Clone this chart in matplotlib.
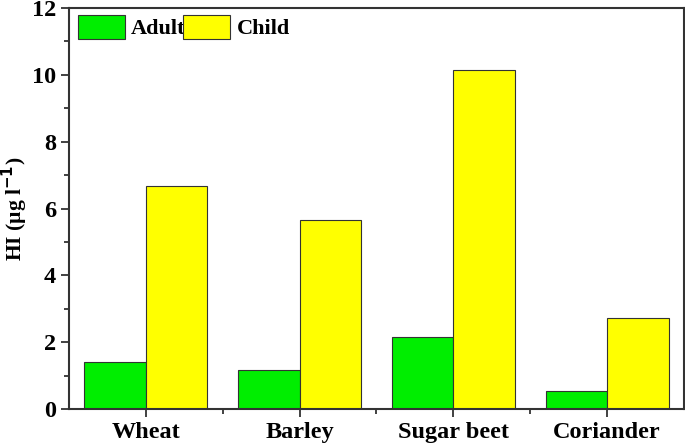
import matplotlib
matplotlib.use("Agg")
import matplotlib.pyplot as plt
import numpy as np
from matplotlib.ticker import MultipleLocator, FixedLocator

plt.rcParams["font.family"] = ["Liberation Serif", "DejaVu Serif"]
plt.rcParams["font.weight"] = "bold"

crops = ["Wheat", "Barley", "Sugar beet", "Coriander"]
adult = [1.41, 1.17, 2.16, 0.54]
child = [6.68, 5.66, 10.15, 2.72]

fig = plt.figure(figsize=(6.85, 4.45), dpi=100)
ax = fig.add_axes([0.1007, 0.0809, 0.8978, 0.9011])

x = np.arange(len(crops))
width = 0.4
ax.bar(x - width / 2, adult, width=width, color="#00ee00", edgecolor="#333333",
       linewidth=0.8, label="Adult")
ax.bar(x + width / 2, child, width=width, color="#ffff00", edgecolor="#333333",
       linewidth=0.8, label="Child")

ax.set_xlim(-0.5, 3.5)
ax.set_ylim(0, 12)
ax.set_xticks(x)
ax.set_xticklabels(crops, fontsize=17.5, fontweight="bold")
ax.xaxis.set_minor_locator(FixedLocator([0.5, 1.5, 2.5]))
ax.yaxis.set_major_locator(MultipleLocator(2))
ax.yaxis.set_minor_locator(MultipleLocator(1))
ax.tick_params(axis="both", which="major", direction="out", length=6, width=1.3,
               labelsize=17.5, color="#333333")
ax.tick_params(axis="both", which="minor", direction="out", length=3.5, width=1.3,
               color="#333333")
for label in ax.get_yticklabels():
    label.set_fontweight("bold")
for spine in ax.spines.values():
    spine.set_linewidth(1.5)
    spine.set_color("#333333")

ax.set_ylabel("HI (µg l$^{\\mathbf{-1}}$)", fontsize=15.5, fontweight="bold", labelpad=1)

ax.legend(loc="upper left", ncol=2, frameon=False,
          prop={"weight": "bold", "size": 16},
          handlelength=2.1, handleheight=1.3, handletextpad=0.3,
          columnspacing=-0.1, borderaxespad=0.0, bbox_to_anchor=(0.0, 1.005))

fig.savefig("out.png", dpi=100)
